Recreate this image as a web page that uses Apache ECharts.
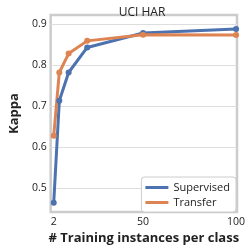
<!DOCTYPE html>
<html><head><meta charset="utf-8">
<script src="https://cdn.jsdelivr.net/npm/echarts@6/dist/echarts.min.js"></script>
<style>html,body{margin:0;padding:0;background:#fff}#c{width:250px;height:250px}</style>
</head><body><div id="c"></div>
<script>
const titleText = 'UCI HAR';
const xName = '# Training instances per class';
const yName = 'Kappa';
const trainingInstances = [2, 5, 10, 20, 50, 100];
const supervised = [0.465, 0.713, 0.782, 0.843, 0.878, 0.888];
const transfer = [0.628, 0.782, 0.828, 0.859, 0.874, 0.873];
const xTicks = [2, 50, 100];
const yTicks = [0.5, 0.6, 0.7, 0.8, 0.9];
const seriesNames = ['Supervised', 'Transfer'];
const colors = ['#4c72b0', '#dd8452'];

const font = 'Open Sans';
const chart = echarts.init(document.getElementById('c'), null, {renderer: 'canvas'});
const pair = (xs, ys) => xs.map((x, i) => [x, ys[i]]);
const lineSeries = (name, ys, color) => ({
  name, type: 'line', data: pair(trainingInstances, ys), z: 3,
  symbol: 'circle', symbolSize: 6, showSymbol: true,
  lineStyle: {color, width: 3}, itemStyle: {color},
  emphasis: {disabled: true}
});
chart.setOption({
  animation: false,
  textStyle: {fontFamily: font},
  title: {text: titleText, left: 137, top: 2, textAlign: 'center',
    textStyle: {fontFamily: font, fontSize: 12, fontWeight: 'normal', color: '#222'}},
  grid: {left: 37, right: 13, top: 15, bottom: 35, show: true,
    borderColor: '#cccccc', borderWidth: 2.5, backgroundColor: '#fff'},
  xAxis: {type: 'value', min: 0.35, max: 100.5,
    name: xName, nameLocation: 'middle', nameGap: 15,
    nameTextStyle: {fontFamily: font, fontSize: 13, fontWeight: 'bold', color: '#222'},
    axisLine: {show: false}, axisTick: {show: false}, splitLine: {show: false},
    axisLabel: {customValues: xTicks, fontFamily: font, fontSize: 10.5, color: '#222', margin: 4,
      formatter: v => String(v)}},
  yAxis: {type: 'value', min: 0.442, max: 0.922,
    name: yName, nameLocation: 'middle', nameGap: 20,
    nameTextStyle: {fontFamily: font, fontSize: 13, fontWeight: 'bold', color: '#222'},
    axisLine: {show: false}, axisTick: {show: false}, splitLine: {show: false},
    axisLabel: {customValues: yTicks, fontFamily: font, fontSize: 10.5, color: '#222', margin: 4,
      formatter: v => v.toFixed(1)}},
  legend: {data: seriesNames, orient: 'vertical', right: 14, bottom: 38, z: 10,
    backgroundColor: '#fff', borderColor: '#cccccc', borderWidth: 1, borderRadius: 3,
    padding: [5, 6, 4, 4], itemGap: 4, itemWidth: 23, itemHeight: 3, icon: 'rect',
    textStyle: {fontFamily: font, fontSize: 11, color: '#222'}},
  series: [
    {type: 'line', data: [], silent: true, z: 1,
      markLine: {silent: true, z: 1, symbol: 'none', label: {show: false},
        lineStyle: {color: '#dddddd', width: 1, type: 'solid'},
        data: yTicks.map(v => ({yAxis: v}))}},
    lineSeries(seriesNames[0], supervised, colors[0]),
    lineSeries(seriesNames[1], transfer, colors[1])
  ]
});
</script></body></html>
